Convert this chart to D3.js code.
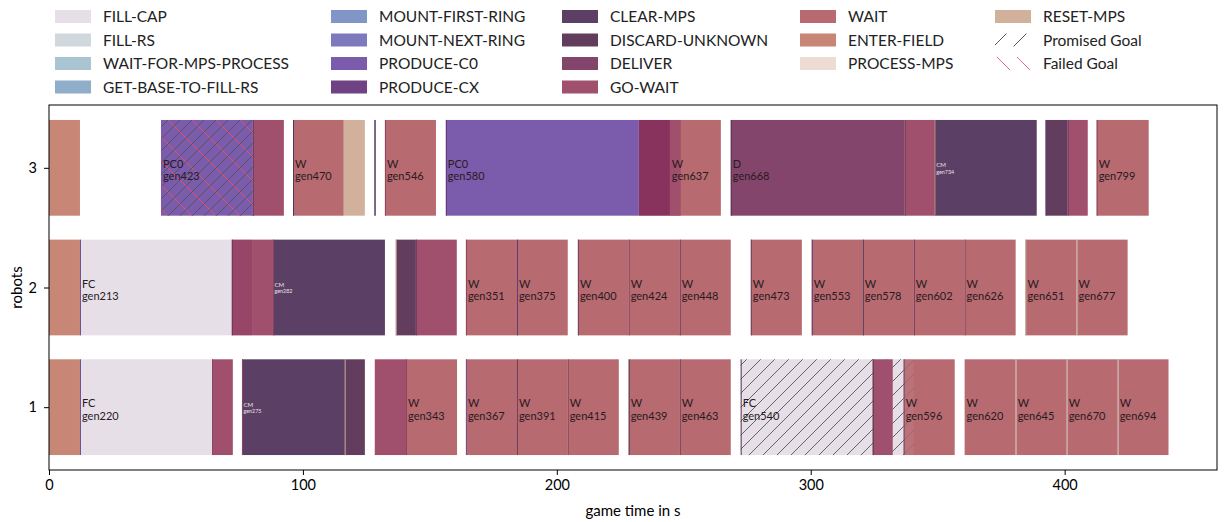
<!DOCTYPE html>
<html>
<head>
<meta charset="utf-8">
<script src="https://cdn.jsdelivr.net/npm/d3@7"></script>
<style>
  html, body { margin: 0; padding: 0; background: #fff; }
  svg text { font-family: Lato, "DejaVu Sans", sans-serif; }
</style>
</head>
<body>
<svg id="chart" width="1226" height="522"></svg>
<script>
// Action categories (legend order) and their fill colours
const actions = [
  "FILL-CAP", "FILL-RS", "WAIT-FOR-MPS-PROCESS", "GET-BASE-TO-FILL-RS",
  "MOUNT-FIRST-RING", "MOUNT-NEXT-RING", "PRODUCE-C0", "PRODUCE-CX",
  "CLEAR-MPS", "DISCARD-UNKNOWN", "DELIVER", "GO-WAIT",
  "WAIT", "ENTER-FIELD", "PROCESS-MPS", "RESET-MPS"
];
const actionColors = [
  "#e6dfe7", "#d0d8de", "#a9c5d1", "#90adca",
  "#8295c7", "#7e79bd", "#7b5cac", "#6f4283",
  "#5c3f64", "#633d5e", "#83456c", "#a0506d",
  "#b76a70", "#c88676", "#eedcd4", "#d1b19c"
];
const abbreviations = {
  "FILL-CAP": "FC", "PRODUCE-C0": "PC0", "CLEAR-MPS": "CM",
  "DELIVER": "D", "WAIT": "W"
};

const robots = [1, 2, 3];
const xTicks = [0, 100, 200, 300, 400];

// Task entries: [start s, end s, action, goal id, edge action, promised, failed]
const robot1Tasks = [
  [0.0, 12.2, "ENTER-FIELD", null, null, 0, 0],
  [12.2, 64.2, "FILL-CAP", "gen220", "PRODUCE-C0", 0, 0],
  [64.2, 72.4, "GO-WAIT", null, "GO-WAIT", 0, 0],
  [76.0, 116.5, "CLEAR-MPS", "gen275", "GO-WAIT", 0, 0],
  [116.5, 124.4, "DISCARD-UNKNOWN", null, "RESET-MPS", 0, 0],
  [128.3, 140.6, "GO-WAIT", null, null, 0, 0],
  [140.6, 160.7, "WAIT", "gen343", "GO-WAIT", 0, 0],
  [164.2, 184.3, "WAIT", "gen367", "PRODUCE-C0", 0, 0],
  [184.3, 204.3, "WAIT", "gen391", "DELIVER", 0, 0],
  [204.3, 224.4, "WAIT", "gen415", "GO-WAIT", 0, 0],
  [228.3, 248.4, "WAIT", "gen439", "DISCARD-UNKNOWN", 0, 0],
  [248.4, 268.5, "WAIT", "gen463", "DELIVER", 0, 0],
  [272.4, 340.6, "FILL-CAP", "gen540", "CLEAR-MPS", 1, 0],
  [324.4, 332.3, "GO-WAIT", null, "DISCARD-UNKNOWN", 0, 0],
  [336.6, 356.7, "WAIT", "gen596", "DELIVER", 0, 0],
  [360.6, 380.7, "WAIT", "gen620", null, 0, 0],
  [380.7, 400.8, "WAIT", "gen645", "PROCESS-MPS", 0, 0],
  [400.8, 420.9, "WAIT", "gen670", "PROCESS-MPS", 0, 0],
  [420.9, 440.9, "WAIT", "gen694", "PROCESS-MPS", 0, 0]
];
const robot2Tasks = [
  [0.0, 12.2, "ENTER-FIELD", null, null, 0, 0],
  [12.2, 72.0, "FILL-CAP", "gen213", "PRODUCE-C0", 0, 0],
  [72.0, 80.3, "GO-WAIT", null, "DELIVER", 0, 0],
  [80.3, 88.2, "GO-WAIT", null, null, 0, 0],
  [88.2, 132.3, "CLEAR-MPS", "gen282", "GO-WAIT", 0, 0],
  [136.6, 144.5, "DISCARD-UNKNOWN", null, "RESET-MPS", 0, 0],
  [144.5, 160.6, "GO-WAIT", null, "DELIVER", 0, 0],
  [164.2, 184.3, "WAIT", "gen351", "GO-WAIT", 0, 0],
  [184.3, 204.3, "WAIT", "gen375", "PRODUCE-CX", 0, 0],
  [208.3, 228.3, "WAIT", "gen400", "DELIVER", 0, 0],
  [228.3, 248.4, "WAIT", "gen424", "GO-WAIT", 0, 0],
  [248.4, 268.5, "WAIT", "gen448", "DELIVER", 0, 0],
  [276.4, 296.5, "WAIT", "gen473", "DELIVER", 0, 0],
  [300.4, 320.5, "WAIT", "gen553", "PRODUCE-CX", 0, 0],
  [320.5, 340.6, "WAIT", "gen578", "DISCARD-UNKNOWN", 0, 0],
  [340.6, 360.6, "WAIT", "gen602", "DELIVER", 0, 0],
  [360.6, 380.7, "WAIT", "gen626", "GO-WAIT", 0, 0],
  [384.6, 404.7, "WAIT", "gen651", "RESET-MPS", 0, 0],
  [404.7, 424.8, "WAIT", "gen677", "PROCESS-MPS", 0, 0]
];
const robot3Tasks = [
  [0.0, 12.2, "ENTER-FIELD", null, null, 0, 0],
  [44.1, 80.3, "PRODUCE-C0", "gen423", null, 1, 1],
  [80.3, 92.5, "GO-WAIT", null, "DELIVER", 0, 0],
  [96.1, 116.1, "WAIT", "gen470", "CLEAR-MPS", 0, 0],
  [116.1, 124.4, "RESET-MPS", null, null, 0, 0],
  [128.2, 128.6, "CLEAR-MPS", null, "CLEAR-MPS", 0, 0],
  [132.3, 152.4, "WAIT", "gen546", "GO-WAIT", 0, 0],
  [156.3, 232.3, "PRODUCE-C0", "gen580", "PRODUCE-CX", 0, 0],
  [244.5, 264.6, "WAIT", "gen637", null, 0, 0],
  [232.3, 248.8, "GO-WAIT", null, null, 0, 0],
  [268.5, 337.0, "DELIVER", "gen668", "DISCARD-UNKNOWN", 0, 0],
  [337.0, 348.8, "GO-WAIT", null, "DELIVER", 0, 0],
  [348.8, 389.0, "CLEAR-MPS", "gen734", "ENTER-FIELD", 0, 0],
  [392.5, 401.2, "DISCARD-UNKNOWN", null, "PRODUCE-CX", 0, 0],
  [401.2, 409.1, "GO-WAIT", null, "DELIVER", 0, 0],
  [412.6, 433.1, "WAIT", "gen799", "GO-WAIT", 0, 0]
];
// Spans where two actions overlap in time: [robot, start s, end s, layers]
const overlaps = [
  [3, 232.3, 244.5, 3],
  [2, 72.0, 80.3, 1]
];
// Span where a promised goal shows through the following action: [robot, start s, end s]
const hatchThrough = [
  [1, 336.6, 340.6]
];

const svg = d3.select("#chart");
const color = d3.scaleOrdinal().domain(actions).range(actionColors);

const plot = { left: 49, right: 1217, top: 105, bottom: 470 };
const x = d3.scaleLinear().domain([0, 460]).range([plot.left, plot.right]);
const y = d3.scaleLinear().domain([0.475, 3.525]).range([plot.bottom, plot.top]);
const barHalf = 0.4;

// Hatch patterns for goal states
const defs = svg.append("defs");
function hatch(id, size, stroke, dir, width) {
  const p = defs.append("pattern").attr("id", id)
    .attr("patternUnits", "userSpaceOnUse")
    .attr("width", size).attr("height", size);
  const d = dir === "/"
    ? `M0,${size} L${size},0 M${-size/2},${size/2} L${size/2},${-size/2} M${size/2},${size*1.5} L${size*1.5},${size/2}`
    : `M0,0 L${size},${size} M${-size/2},${size/2} L${size/2},${size*1.5} M${size/2},${-size/2} L${size*1.5},${size/2}`;
  p.append("path").attr("d", d).attr("stroke", stroke)
    .attr("stroke-width", width).attr("fill", "none");
}
hatch("promised", 14, "#555", "/", 0.9);
hatch("promisedDense", 12, "#555", "/", 0.9);
hatch("failed", 24, "#e0506a", "\\", 0.9);
hatch("legendPromised", 20, "#444", "/", 0.9);
hatch("legendFailed", 20, "#e06070", "\\", 0.9);

const tasksByRobot = [robot1Tasks, robot2Tasks, robot3Tasks];
const gBars = svg.append("g");

robots.forEach((r, i) => {
  const tasks = tasksByRobot[i];
  const y0 = y(r + barHalf), y1 = y(r - barHalf);
  tasks.forEach(t => {
    const [s, e, act, goal, edge, promised, failed] = t;
    gBars.append("rect")
      .attr("x", x(s)).attr("y", y0)
      .attr("width", Math.max(0.6, x(e) - x(s))).attr("height", y1 - y0)
      .attr("fill", color(act));
    if (promised) {
      gBars.append("rect")
        .attr("x", x(s)).attr("y", y0)
        .attr("width", x(e) - x(s)).attr("height", y1 - y0)
        .attr("fill", failed ? "url(#promisedDense)" : "url(#promised)");
    }
    if (failed) {
      gBars.append("rect")
        .attr("x", x(s)).attr("y", y0)
        .attr("width", x(e) - x(s)).attr("height", y1 - y0)
        .attr("fill", "url(#failed)");
    }
    if (edge) {
      gBars.append("line")
        .attr("x1", x(s) + 0.5).attr("x2", x(s) + 0.5)
        .attr("y1", y0).attr("y2", y1)
        .attr("stroke", d3.color(color(edge)).darker(0.4)).attr("stroke-width", 1);
    }
  });
  // overlapping spans get a deeper shade
  overlaps.filter(o => o[0] === r).forEach(o => {
    gBars.append("rect")
      .attr("x", x(o[1])).attr("y", y0)
      .attr("width", x(o[2]) - x(o[1])).attr("height", y1 - y0)
      .attr("fill", "#5b0045").attr("fill-opacity", 0.12 * o[3]);
  });
  hatchThrough.filter(o => o[0] === r).forEach(o => {
    gBars.append("rect")
      .attr("x", x(o[1])).attr("y", y0)
      .attr("width", x(o[2]) - x(o[1])).attr("height", y1 - y0)
      .attr("fill", "#ffffff").attr("fill-opacity", 0.06);
    gBars.append("rect")
      .attr("x", x(o[1])).attr("y", y0)
      .attr("width", x(o[2]) - x(o[1])).attr("height", y1 - y0)
      .attr("fill", "url(#promised)").attr("opacity", 0.35);
  });
});

// Goal labels
robots.forEach((r, i) => {
  const cy = y(r);
  tasksByRobot[i].forEach(t => {
    const [s, , act, goal] = t;
    if (!goal) return;
    const abbr = abbreviations[act];
    if (act === "CLEAR-MPS") {
      const g = svg.append("g").attr("fill", "#e8e0ea");
      g.append("text").attr("x", x(s) + 1.5).attr("y", cy - 0.5)
        .attr("font-size", 6.2).text(abbr);
      g.append("text").attr("x", x(s) + 1.5).attr("y", cy + 5.8)
        .attr("font-size", 5.4).text(goal);
    } else {
      const g = svg.append("g").attr("fill", "#2a1a22");
      g.append("text").attr("x", x(s) + 2).attr("y", cy)
        .attr("font-size", 11).text(abbr);
      g.append("text").attr("x", x(s) + 2).attr("y", cy + 12.5)
        .attr("font-size", 11).text(goal);
    }
  });
});

// Axes frame
svg.append("rect")
  .attr("x", plot.left).attr("y", plot.top)
  .attr("width", plot.right - plot.left).attr("height", plot.bottom - plot.top)
  .attr("fill", "none").attr("stroke", "#000").attr("stroke-width", 1);

const xAxis = svg.append("g")
  .attr("transform", `translate(0,${plot.bottom})`)
  .call(d3.axisBottom(x).tickValues(xTicks).tickSize(5).tickPadding(5));
const yAxis = svg.append("g")
  .attr("transform", `translate(${plot.left},0)`)
  .call(d3.axisLeft(y).tickValues(robots).tickFormat(d3.format("d")).tickSize(5).tickPadding(7));
[xAxis, yAxis].forEach(a => {
  a.select(".domain").remove();
  a.selectAll("text").attr("font-size", 14.5).attr("fill", "#000")
    .attr("font-family", "Lato, 'DejaVu Sans', sans-serif");
  a.selectAll("line").attr("stroke", "#000");
});

svg.append("text").attr("x", (plot.left + plot.right) / 2).attr("y", 516)
  .attr("text-anchor", "middle").attr("font-size", 15).text("game time in s");
svg.append("text").attr("transform", `translate(22,${(plot.top + plot.bottom) / 2}) rotate(-90)`)
  .attr("text-anchor", "middle").attr("font-size", 15).text("robots");

// Legend: four rows per column, action colours followed by goal hatches
const legendCols = [55, 331, 562, 800, 995];
const legendRowY = [16.5, 40, 63.5, 87];
const legendItems = actions.map((a, i) => ({ label: a, fill: color(a) }))
  .concat([{ label: "Promised Goal", fill: "url(#legendPromised)" },
           { label: "Failed Goal", fill: "url(#legendFailed)" }]);
const colSizes = [4, 4, 4, 3, 3];
let idx = 0;
const gLegend = svg.append("g");
colSizes.forEach((n, c) => {
  for (let k = 0; k < n; k++, idx++) {
    const it = legendItems[idx];
    const cy = legendRowY[k];
    gLegend.append("rect").attr("x", legendCols[c]).attr("y", cy - 6.5)
      .attr("width", 36).attr("height", 13).attr("fill", it.fill);
    gLegend.append("text").attr("x", legendCols[c] + 48).attr("y", cy + 5.5)
      .attr("font-size", 15.5).attr("fill", "#222").text(it.label);
  }
});
</script>
</body>
</html>
